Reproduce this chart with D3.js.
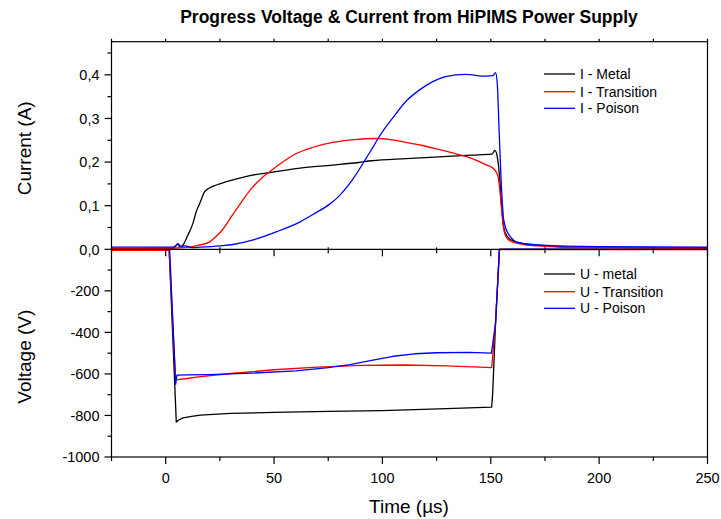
<!DOCTYPE html>
<html>
<head>
<meta charset="utf-8">
<script src="https://cdn.jsdelivr.net/npm/d3@7"></script>
<style>
  html, body { margin: 0; padding: 0; background: #fff; }
  svg { display: block; font-family: Arial, "Liberation Sans", sans-serif; }
</style>
</head>
<body>
<svg id="chart" width="721" height="519"></svg>
<script>
// ---------- DATA ----------
const title = "Progress Voltage & Current from HiPIMS Power Supply";
const xLabel = "Time (µs)";
const yTopLabel = "Current (A)";
const yBottomLabel = "Voltage (V)";

const xTicks = [0, 50, 100, 150, 200, 250];
const currentTicks = [0, 0.1, 0.2, 0.3, 0.4];
const currentTickLabels = ["0,0", "0,1", "0,2", "0,3", "0,4"];
const voltageTicks = [-200, -400, -600, -800, -1000];
const voltageTickLabels = ["-200", "-400", "-600", "-800", "-1000"];

const currentNames = ["I - Metal", "I - Transition", "I - Poison"];
const voltageNames = ["U - metal", "U - Transition", "U - Poison"];
const seriesColors = ["#000000", "#ff0000", "#0000ff"];

// Current - Metal
const tIMetal = [-25, 0, 3, 4.5, 5.5, 6.5, 8, 10, 12.6, 14, 15.7, 18, 20, 22, 26, 31, 40, 48, 62, 77, 89, 95, 111, 126, 141, 150.5, 151.9, 153, 154, 155, 156, 157.5, 160, 165, 175, 190, 250];
const iMetal  = [0.001, 0.001, 0.002, 0.006, 0.012, 0.006, 0.01, 0.03, 0.06, 0.085, 0.105, 0.132, 0.14, 0.145, 0.152, 0.159, 0.17, 0.176, 0.186, 0.193, 0.199, 0.203, 0.208, 0.212, 0.216, 0.218, 0.227, 0.212, 0.17, 0.1, 0.05, 0.03, 0.02, 0.013, 0.008, 0.005, 0.003];
// Current - Transition
const tITrans = [-25, 5, 11, 15, 20.3, 23, 26.4, 31, 35.6, 40, 44, 48, 54, 60, 68, 77, 86, 97, 104.6, 110.8, 118.5, 126, 134, 141.5, 147.7, 151.5, 153.3, 154.3, 155.2, 156, 157.5, 160, 165, 175, 190, 250];
const iTrans  = [0.002, 0.003, 0.005, 0.009, 0.017, 0.028, 0.046, 0.08, 0.113, 0.142, 0.162, 0.178, 0.2, 0.219, 0.234, 0.245, 0.251, 0.254, 0.251, 0.245, 0.238, 0.229, 0.219, 0.208, 0.194, 0.184, 0.168, 0.13, 0.08, 0.045, 0.025, 0.017, 0.011, 0.007, 0.004, 0.003];
// Current - Poison
const tIPoison = [-25, 3, 4.5, 5.7, 7, 9, 12, 16, 25, 31, 40, 51, 62, 69, 75.5, 80, 83, 86.2, 89.3, 92.4, 95.5, 98.5, 104.6, 110.8, 117, 123, 129.2, 138.4, 147.7, 151, 152.2, 153, 153.8, 154.7, 156, 158.4, 163, 172, 200, 250];
const iPoison  = [0.005, 0.005, 0.008, 0.013, 0.006, 0.008, 0.004, 0.005, 0.008, 0.011, 0.021, 0.04, 0.063, 0.083, 0.103, 0.122, 0.139, 0.16, 0.183, 0.208, 0.233, 0.258, 0.3, 0.339, 0.365, 0.384, 0.396, 0.401, 0.397, 0.398, 0.405, 0.38, 0.28, 0.167, 0.067, 0.033, 0.015, 0.01, 0.006, 0.005];

// Voltage - metal
const tUMetal = [-25, 1.6, 4.9, 6, 8, 12, 16, 30, 50, 75, 100, 126, 150.4, 150.9, 152.2, 154, 160, 250];
const uMetal  = [-3, -3, -832, -822, -812, -804, -798, -790, -785, -780, -777, -768, -760, -690, -356, 0, 0, 0];
// Voltage - Transition
const tUTrans = [-25, 1.6, 4.6, 10, 15, 30, 50, 70, 90, 110, 130, 150.4, 152.2, 154, 160, 250];
const uTrans  = [-5, -5, -629, -622, -614, -598, -580, -567, -559, -557, -561, -570, -356, 0, -2, -2];
// Voltage - Poison
const tUPoison = [-25, 1.8, 4.6, 5.2, 10, 20, 40, 60, 75, 85, 95, 105, 115, 125, 140, 150.3, 152.2, 154, 160, 250];
const uPoison  = [2, 2, -650, -606, -605, -603, -596, -585, -570, -555, -535, -515, -503, -498, -496, -500, -356, 0, 1, 1];

// ---------- LAYOUT ----------
const svg = d3.select("#chart");
const left = 111.5, right = 707.5;
const topY = 41.7, midY = 249.3, botY = 457;

const x = d3.scaleLinear().domain([-25, 250]).range([left, right]);
const yI = d3.scaleLinear().domain([0, 0.476]).range([midY, topY]);
const yU = d3.scaleLinear().domain([-1000, 0]).range([botY, midY]);

// Title
svg.append("text").attr("x", 409).attr("y", 23).attr("text-anchor", "middle")
  .attr("font-weight", "bold").attr("font-size", "17.5px").text(title);

// Data lines
const lineI = (ts, vs) => d3.line().curve(d3.curveMonotoneX).x((d, i) => x(ts[i])).y((d, i) => yI(vs[i]))(vs);
const lineU = (ts, vs) => d3.line().x((d, i) => x(ts[i])).y((d, i) => yU(vs[i]))(vs);

const currentSeries = [[tIMetal, iMetal], [tITrans, iTrans], [tIPoison, iPoison]];
const voltageSeries = [[tUMetal, uMetal], [tUTrans, uTrans], [tUPoison, uPoison]];

const g = svg.append("g");
voltageSeries.forEach((s, k) => {
  g.append("path").attr("d", lineU(s[0], s[1])).attr("fill", "none")
    .attr("stroke", seriesColors[k]).attr("stroke-width", 1.3).attr("stroke-linejoin", "round");
});
currentSeries.forEach((s, k) => {
  g.append("path").attr("d", lineI(s[0], s[1])).attr("fill", "none")
    .attr("stroke", seriesColors[k]).attr("stroke-width", 1.3).attr("stroke-linejoin", "round");
});

// Frames
const frame = svg.append("g").attr("fill", "none").attr("stroke", "#000").attr("stroke-width", 1.2);
frame.append("rect").attr("x", left).attr("y", topY).attr("width", right - left).attr("height", botY - topY);
frame.append("line").attr("x1", left).attr("x2", right).attr("y1", midY).attr("y2", midY);

// X ticks
const xMinor = d3.range(-25, 251, 25).filter(v => !xTicks.includes(v));
const tk = svg.append("g").attr("stroke", "#000").attr("stroke-width", 1.2);
xTicks.forEach(v => tk.append("line").attr("x1", x(v)).attr("x2", x(v)).attr("y1", botY).attr("y2", botY + 7));
xMinor.forEach(v => tk.append("line").attr("x1", x(v)).attr("x2", x(v)).attr("y1", botY).attr("y2", botY + 4));
xTicks.forEach(v => tk.append("line").attr("x1", x(v)).attr("x2", x(v)).attr("y1", midY).attr("y2", midY + 7));
xMinor.forEach(v => tk.append("line").attr("x1", x(v)).attr("x2", x(v)).attr("y1", midY - 2).attr("y2", midY + 4));
d3.range(-25, 251, 25).forEach(v => tk.append("line").attr("x1", x(v)).attr("x2", x(v)).attr("y1", topY).attr("y2", topY - 3));

currentTicks.forEach(v => tk.append("line").attr("x1", left - 7).attr("x2", left).attr("y1", yI(v)).attr("y2", yI(v)));
d3.range(0.05, 0.476, 0.1).forEach(v => tk.append("line").attr("x1", left - 4).attr("x2", left).attr("y1", yI(v)).attr("y2", yI(v)));
voltageTicks.forEach(v => tk.append("line").attr("x1", left - 7).attr("x2", left).attr("y1", yU(v)).attr("y2", yU(v)));
d3.range(-900, 0, 200).forEach(v => tk.append("line").attr("x1", left - 4).attr("x2", left).attr("y1", yU(v)).attr("y2", yU(v)));

// Tick labels
const lab = svg.append("g").attr("font-size", "14.5px").attr("fill", "#000");
xTicks.forEach(v => lab.append("text").attr("x", x(v)).attr("y", 483).attr("text-anchor", "middle").text(v));
currentTicks.forEach((v, i) => lab.append("text").attr("x", 99.5).attr("y", yI(v)).attr("dy", "0.36em")
  .attr("text-anchor", "end").text(currentTickLabels[i]));
voltageTicks.forEach((v, i) => lab.append("text").attr("x", 99.5).attr("y", yU(v)).attr("dy", "0.36em")
  .attr("text-anchor", "end").text(voltageTickLabels[i]));

// Axis titles
svg.append("text").attr("x", 409).attr("y", 513).attr("text-anchor", "middle").attr("font-size", "19px").text(xLabel);
svg.append("text").attr("transform", "translate(31,148.3) rotate(-90)").attr("text-anchor", "middle")
  .attr("font-size", "19px").text(yTopLabel);
svg.append("text").attr("transform", "translate(31,356.7) rotate(-90)").attr("text-anchor", "middle")
  .attr("font-size", "19px").text(yBottomLabel);

// Legends
function legend(names, ys) {
  names.forEach((n, i) => {
    svg.append("line").attr("x1", 544).attr("x2", 575).attr("y1", ys[i]).attr("y2", ys[i])
      .attr("stroke", seriesColors[i]).attr("stroke-width", 1.3);
    svg.append("text").attr("x", 580).attr("y", ys[i]).attr("dy", "0.36em").attr("font-size", "14px").text(n);
  });
}
legend(currentNames, [74, 91.7, 108.3]);
legend(voltageNames, [274, 291.7, 308.3]);
</script>
</body>
</html>
